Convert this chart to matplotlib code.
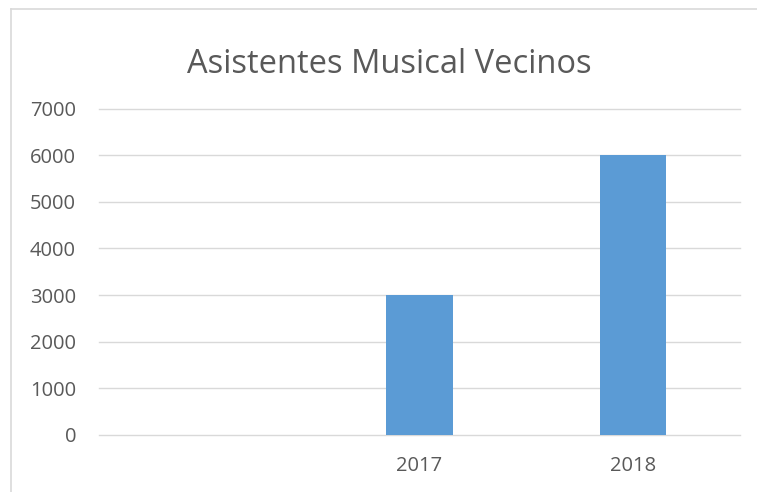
import matplotlib.pyplot as plt
from matplotlib.lines import Line2D

# chart data (first category is empty in the original)
categories = ['', '2017', '2018']
asistentes = [0, 3000, 6000]
y_ticks = [0, 1000, 2000, 3000, 4000, 5000, 6000, 7000]

text_color = '#595959'
grid_color = '#D9D9D9'
bar_color = '#5B9BD5'

plt.rcParams['font.family'] = ['Open Sans', 'DejaVu Sans']

fig = plt.figure(figsize=(7.57, 4.92), dpi=100)
ax = fig.add_axes([99 / 757, 1 - 435 / 492, (740 - 99) / 757, (435 - 108.5) / 492])

x = range(len(categories))
ax.bar(x, asistentes, width=0.31, color=bar_color, zorder=3)

ax.set_xlim(-0.5, len(categories) - 0.5)
ax.set_ylim(0, 7000)
ax.set_yticks(y_ticks)
ax.set_yticklabels([str(v) for v in y_ticks])
ax.set_xticks(list(x))
ax.set_xticklabels(categories)
ax.yaxis.grid(True, color=grid_color, linewidth=1.0, zorder=0)
for gl in ax.get_ygridlines():
    gl.set_clip_on(False)
ax.tick_params(axis='both', length=0, labelsize=14.5, colors=text_color)
ax.tick_params(axis='y', pad=16.5)
ax.tick_params(axis='x', pad=15)
for s in ax.spines.values():
    s.set_visible(False)

fig.text(389 / 757, 1 - 73 / 492, 'Asistentes Musical Vecinos', ha='center', va='baseline',
         fontsize=23.5, color=text_color)

# chart frame (cut off at the right and bottom)
fig.add_artist(Line2D([11 / 757, 11 / 757], [0, 1 - 9 / 492], color=grid_color, linewidth=1.2))
fig.add_artist(Line2D([11 / 757, 1], [1 - 9 / 492, 1 - 9 / 492], color=grid_color, linewidth=1.2))

fig.savefig('out.png', dpi=100)
